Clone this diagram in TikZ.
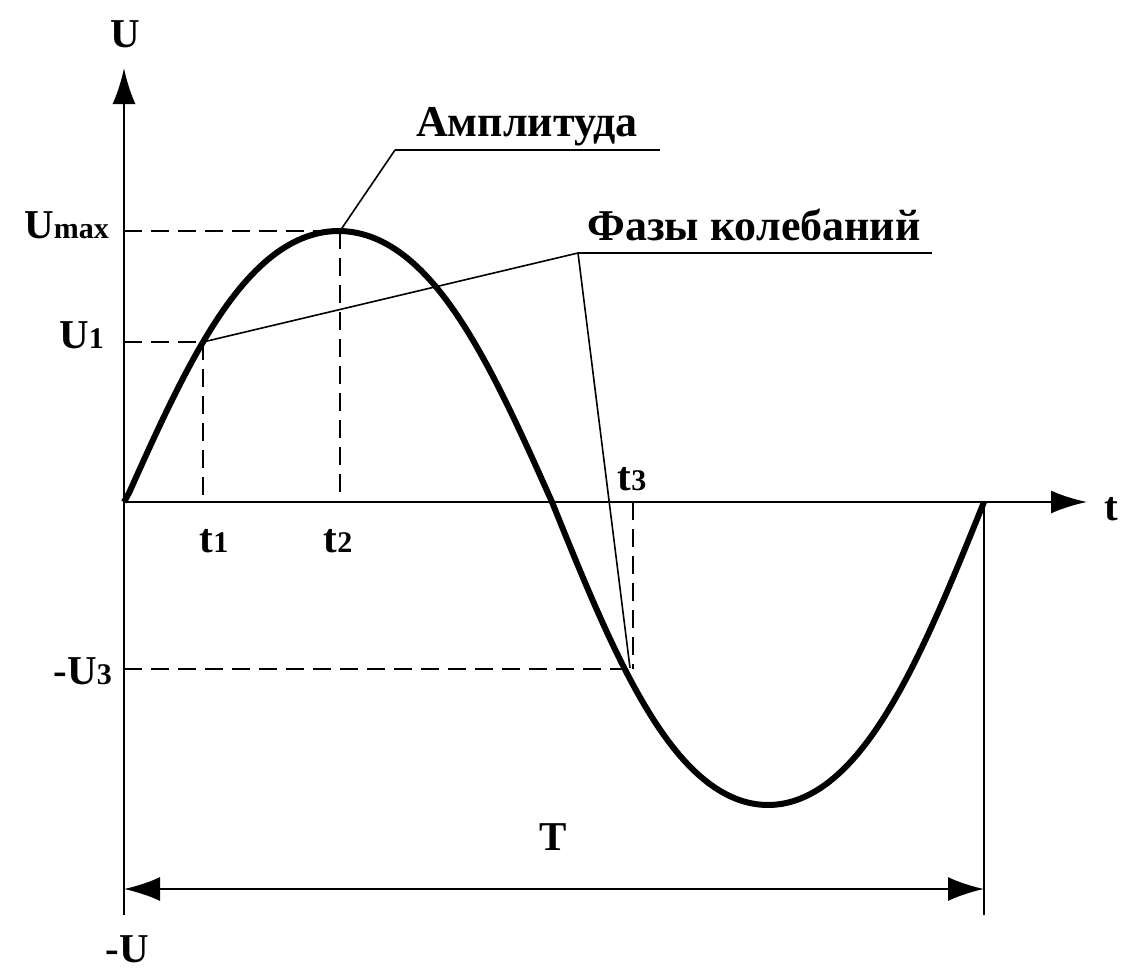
\documentclass[tikz,border=0pt]{standalone}
\usepackage{fontspec}
\setmainfont{Liberation Serif}
\usetikzlibrary{arrows.meta}
\newcommand\idx[1]{{\fontsize{30}{30}\selectfont #1}}
\begin{document}
\begin{tikzpicture}[x=1pt,y=-1pt,
  axis/.style={line width=2.4pt,-{Latex[length=36pt,width=23pt]}},
  dimline/.style={line width=2.4pt,{Latex[length=36pt,width=24pt]}-{Latex[length=36pt,width=24pt]}},
  plain/.style={line width=2.4pt},
  wave/.style={line width=6pt,line join=round},
  guide/.style={line width=2pt,dash pattern=on 18pt off 9pt},
  leader/.style={line width=1.6pt},
  shelf/.style={line width=2.2pt},
  lbl/.style={font=\fontsize{41}{41}\selectfont\bfseries,inner sep=0pt},
  bigl/.style={font=\fontsize{44}{44}\selectfont\bfseries,inner sep=0pt}]
\useasboundingbox (0,0) rectangle (1124,969);
% key points
\coordinate (O) at (124,502);
\coordinate (Ytop) at (124,68);
\coordinate (Ybot) at (124,915);
\coordinate (Xend) at (1087,502);
\coordinate (Z) at (552,502);
\coordinate (E) at (984,502);
\coordinate (Ebot) at (984,915);
\coordinate (P) at (340,231);
\coordinate (A1) at (203,342);
\coordinate (A3) at (626,669);
\coordinate (Umax) at (124,231);
\coordinate (U1) at (124,342);
\coordinate (U3) at (124,669);
\coordinate (T1) at (203,502);
\coordinate (T2) at (340,502);
\coordinate (T3top) at (633,502);
\coordinate (T3bot) at (633,669);
\coordinate (L3) at (630,668);
\coordinate (AmpK) at (395,150);
\coordinate (AmpE) at (660,150);
\coordinate (PhK) at (578,253);
\coordinate (PhE) at (932,253);
\coordinate (DL) at (124,889);
\coordinate (DR) at (984,889);
% axes
\draw[axis] (Ybot) -- (Ytop);
\draw[axis] (O) -- (Xend);
\draw[plain] (E) -- (Ebot);
\draw[dimline] (DL) -- (DR);
% guide lines
\draw[guide] (Umax) -- (P);
\draw[guide] (P) -- (T2);
\draw[guide] (U1) -- (A1);
\draw[guide] (A1) -- (T1);
\draw[guide] (U3) -- (A3);
\draw[guide] (T3top) -- (T3bot);
% leaders
\draw[leader] (P) -- (AmpK);
\draw[shelf] (AmpK) -- (AmpE);
\draw[leader] (A1) -- (PhK);
\draw[leader] (PhK) -- (L3);
\draw[shelf] (PhK) -- (PhE);
% wave
\draw[wave] (O) -- plot[domain=0.01:0.99,samples=100] ({125+427*\x},{502-271*(sin(180*\x)+0.03*sin(540*\x))/0.97}) -- (Z)
  -- plot[domain=0.01:0.99,samples=100] ({552+432*\x},{502+303*(sin(180*\x)+0.03*sin(540*\x))/0.97}) -- (E);
% labels
\node[lbl,anchor=base] (lU) at (125,47) {U};
\node[lbl,anchor=base east] (lUmax) at (109,238) {U\idx{max}};
\node[lbl,anchor=base east] (lU1) at (104,348) {U\idx{1}};
\node[lbl,anchor=base east] (lU3) at (112,684) {-U\idx{3}};
\node[lbl,anchor=base] (lmU) at (127,962) {-U};
\node[lbl,anchor=base] (lt1) at (214,552) {t\idx{1}};
\node[lbl,anchor=base] (lt2) at (338,552) {t\idx{2}};
\node[lbl,anchor=base] (lt3) at (632,490) {t\idx{3}};
\node[lbl,anchor=base west] (lt) at (1104,520) {t};
\node[lbl,anchor=base] (lT) at (553,850) {T};
\node[bigl,anchor=base] (lAmp) at (527,136) {Амплитуда};
\node[bigl,anchor=base] (lPh) at (754,240) {Фазы колебаний};
\end{tikzpicture}
\end{document}
